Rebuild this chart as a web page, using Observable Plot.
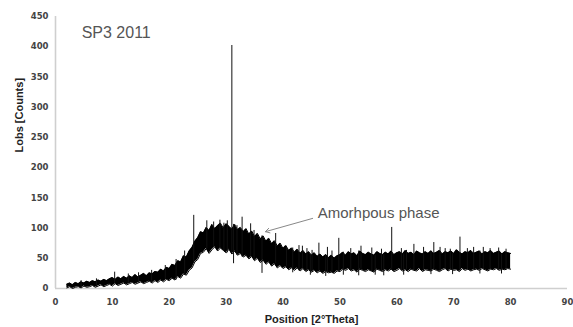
<!DOCTYPE html>
<html>
<head>
<meta charset="utf-8">
<script src="https://cdn.jsdelivr.net/npm/d3@7"></script>
<script src="https://cdn.jsdelivr.net/npm/@observablehq/plot@0.6"></script>
<style>
  html, body { margin: 0; padding: 0; background: #fff; }
  #chart svg { display: block; }
</style>
</head>
<body>
<div id="chart"></div>
<script>
// Noisy band of the diffraction pattern:
// lower and upper edge of the counts, 2θ from 2.0° to 80.0° in 0.5° steps
const startAngle = 2.0;
const angleStep = 0.5;
const lowCounts = [
  1,3,0,2,3,1,4,2,3,5,2,4,6,3,5,7,
  4,8,5,7,9,6,8,10,7,9,11,8,10,12,9,13,
  10,14,11,15,13,17,14,20,17,24,22,30,34,44,48,58,
  60,66,58,64,69,62,67,63,59,65,57,62,55,58,52,55,
  49,53,46,50,43,47,40,44,37,41,34,38,33,36,31,34,
  30,34,29,33,28,31,27,30,26,29,25,28,26,27,25,29,
  28,32,30,33,29,31,27,32,30,28,31,29,27,32,30,28,
  31,29,32,28,30,33,29,31,28,32,30,29,33,28,31,30,
  29,32,30,28,31,33,29,32,30,31,28,33,30,32,29,31,
  32,30,33,31,29,32,31,33,30,32,31,33,
  32
];
const highCounts = [
  7,9,6,10,8,11,9,12,10,13,11,14,12,15,13,16,
  18,15,19,16,20,17,21,18,23,19,22,25,21,26,24,28,
  27,32,29,35,33,40,38,46,44,54,52,62,68,78,84,94,
  92,101,96,106,99,104,108,100,107,103,98,106,97,101,94,99,
  90,95,86,91,82,87,78,83,74,79,70,75,66,71,63,67,
  60,65,58,63,57,61,55,59,53,57,52,56,51,55,50,54,
  56,60,55,61,57,59,54,62,58,56,60,57,55,61,58,56,
  60,57,62,56,59,61,57,63,58,60,56,62,59,57,61,58,
  62,58,60,63,57,61,59,62,58,64,60,57,61,59,63,58,
  60,62,57,61,59,63,58,60,62,57,61,59,
  58
];
// Sharp upward reflections / noise spikes: position (°2θ) and peak counts
const peakAngles = [4.5, 7.2, 10.4, 12.8, 14.6, 16.9, 19.3, 21.2, 22.7, 24.3,
  26.6, 27.8, 28.9, 29.6, 30.2, 31.0, 31.9, 32.8, 34.3, 34.9, 38.7,
  40.6, 42.8, 43.4, 44.2, 45.1, 46.3, 47.8, 48.6, 49.8, 51.9, 53.7, 55.6, 57.3,
  59.1, 60.8, 61.7, 63.0, 64.7, 66.5, 67.6, 68.5, 69.4, 71.1, 72.4, 73.5,
  75.2, 76.4, 77.9, 79.2];
const peakCounts = [13, 16, 27, 24, 26, 30, 38, 48, 62, 121,
  112, 110, 113, 108, 112, 402, 104, 118, 107, 96, 91,
  68, 71, 70, 66, 63, 75, 68, 62, 83, 66, 70, 67, 65,
  101, 66, 63, 73, 68, 76, 68, 66, 65, 85, 66, 68,
  68, 66, 67, 65];
// Sharp downward dips: position (°2θ) and lowest counts
const dipAngles = [31.3, 36.3, 41.7, 44.8, 47.5, 50.6, 53.3, 56.2, 57.7, 61.2, 66.0, 69.8, 74.6, 78.4];
const dipCounts = [41, 25, 26, 22, 20, 22, 21, 22, 21, 22, 23, 23, 24, 24];

const xTicks = [0,10,20,30,40,50,60,70,80,90];
const yTicks = [0,50,100,150,200,250,300,350,400,450];
const titleText = ["SP3 2011"];
const annotationText = ["Amorhpous phase"];
const annotationArrow = [{x1: 45.2, y1: 116, x2: 36.9, y2: 94}];

const band = lowCounts.map((lo, i) => ({angle: startAngle + i * angleStep, lo, hi: highCounts[i]}));
const bandAt = a => band[Math.max(0, Math.min(band.length - 1, Math.round((a - startAngle) / angleStep)))];
const peaks = peakAngles.map((a, i) => ({angle: a, top: peakCounts[i], base: bandAt(a).lo}));
const dips = dipAngles.map((a, i) => ({angle: a, bottom: dipCounts[i], base: bandAt(a).hi}));

const tickFont = "DejaVu Sans, sans-serif";
const textFont = "Liberation Sans, Arial, sans-serif";
const chart = Plot.plot({
  width: 573,
  height: 327,
  marginLeft: 55,
  marginRight: 6,
  marginTop: 16,
  marginBottom: 39,
  style: {background: "#fff"},
  x: {domain: [0, 90]},
  y: {domain: [0, 450]},
  marks: [
    Plot.ruleY([0], {stroke: "#cfcfcf", strokeWidth: 1.6}),
    Plot.ruleX([0], {stroke: "#cfcfcf", strokeWidth: 1.6}),
    Plot.axisX({ticks: xTicks, tickSize: 0, tickPadding: 10, label: null,
      fontSize: 8.5, fontWeight: "bold", fontFamily: tickFont, fill: "#444"}),
    Plot.axisY({ticks: yTicks, tickSize: 0, tickPadding: 7, label: null,
      fontSize: 8.5, fontWeight: "bold", fontFamily: tickFont, fill: "#444"}),
    Plot.areaY(band, {x: "angle", y1: "lo", y2: "hi", fill: "#000"}),
    Plot.line(band, {x: "angle", y: "hi", stroke: "#000", strokeWidth: 1}),
    Plot.line(band, {x: "angle", y: "lo", stroke: "#000", strokeWidth: 1}),
    Plot.ruleX(peaks, {x: "angle", y1: "base", y2: "top", stroke: "#111", strokeWidth: 1}),
    Plot.ruleX(dips, {x: "angle", y1: "bottom", y2: "base", stroke: "#111", strokeWidth: 1}),
    Plot.text(titleText, {x: 4.6, y: 415, text: d => d, textAnchor: "start", lineAnchor: "bottom",
      fontSize: 16, fontFamily: textFont, fill: "#555"}),
    Plot.text(annotationText, {x: 46.1, y: 116, text: d => d, textAnchor: "start", lineAnchor: "bottom",
      fontSize: 15, fontFamily: textFont, fill: "#555"}),
    Plot.arrow(annotationArrow, {x1: "x1", y1: "y1", x2: "x2", y2: "y2", stroke: "#888",
      strokeWidth: 1, headLength: 7}),
    Plot.text(["Position [2°Theta]"], {frameAnchor: "bottom", text: d => d, dy: 34,
      fontSize: 11, fontWeight: "bold", fontFamily: textFont, fill: "#222"}),
    Plot.text(["Lobs [Counts]"], {frameAnchor: "left", text: d => d, dx: -36, rotate: -90,
      fontSize: 11, fontWeight: "bold", fontFamily: textFont, fill: "#222"})
  ]
});
document.getElementById("chart").appendChild(chart);
</script>
</body>
</html>
